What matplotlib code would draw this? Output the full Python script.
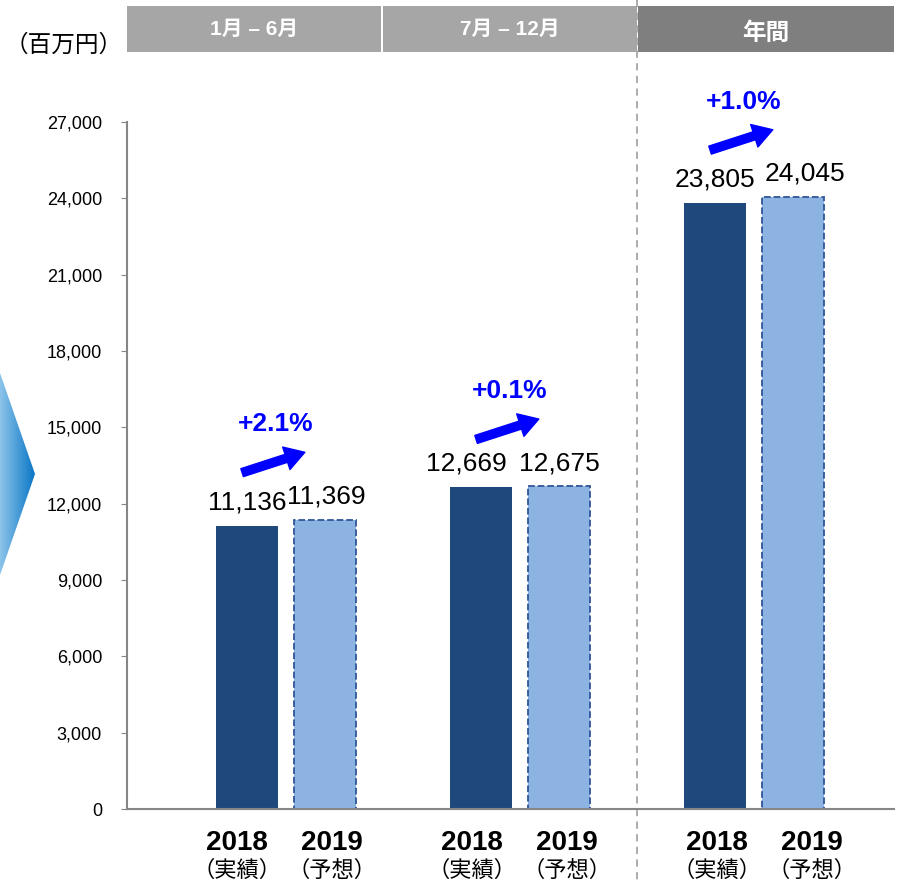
import numpy as np
import matplotlib
matplotlib.use('Agg')
import matplotlib.pyplot as plt
from matplotlib.patches import Polygon, Rectangle
from matplotlib.colors import LinearSegmentedColormap

plt.rcParams['font.family'] = ['Liberation Sans', 'Noto Sans CJK JP']

periods = ['1月 – 6月', '7月 – 12月', '年間']
years = ['2018', '2019']
year_notes = ['（実績）', '（予想）']
sales_2018 = [11136, 12669, 23805]
sales_2019 = [11369, 12675, 24045]
growth = ['+2.1%', '+0.1%', '+1.0%']
yticks = list(range(0, 27001, 3000))

W, H = 899, 884
fig = plt.figure(figsize=(W / 100, H / 100), dpi=100)

# pixel-coordinate overlay for header, divider and decoration
bg = fig.add_axes([0, 0, 1, 1], zorder=0)

# blue chevron on the left
grad = np.linspace(0, 1, 256).reshape(1, -1)
cmap = LinearSegmentedColormap.from_list('chev', ['#8CC4EA', '#0A76C6'])
im = bg.imshow(grad, extent=(0, 35, 575, 373), cmap=cmap, aspect='auto', origin='upper')
chev = Polygon([(0, 373), (35, 474), (0, 575)], closed=True, facecolor='none', edgecolor='none')
bg.add_patch(chev)
im.set_clip_path(chev)

# header boxes
bg.plot([637, 637], [0, H], color='#A6A6A6', ls=(0, (4, 3)), lw=1.3, zorder=1)
header_x = [(127, 381), (383, 637), (638, 894)]
header_col = ['#A6A6A6', '#A6A6A6', '#7F7F7F']
header_ty = [29, 29, 33]
header_fs = [15, 15, 17]
for (x0, x1), c, ty, fs, lab in zip(header_x, header_col, header_ty, header_fs, periods):
    bg.add_patch(Rectangle((x0, 6), x1 - x0, 46, facecolor=c, edgecolor='none', zorder=2))
    bg.text((x0 + x1) / 2, ty, lab, ha='center', va='center', color='white',
            fontsize=fs, fontweight='bold', zorder=3)

bg.text(64, 45, '（百万円）', ha='center', va='center', fontsize=17)

bg.set_xlim(0, W)
bg.set_ylim(H, 0)
bg.axis('off')

# main chart
ax = fig.add_axes([127 / W, 75 / H, (894 - 127) / W, (809 - 55) / H], zorder=1)
ax.patch.set_alpha(0)

x = np.arange(len(periods))
off = 0.166
w = 0.265
ax.bar(x - off, sales_2018, w, color='#1F497D', zorder=2)
ax.bar(x + off, sales_2019, w, color='#8DB3E2', edgecolor='#2F5597',
       linestyle='--', linewidth=1.3, zorder=2)

# small horizontal nudges (points) of the value labels, as in the original slide
nudge_2018 = [0, -11, 0]
nudge_2019 = [1, 0, 9]
label_off = 0.203
label_shift = [-0.008, -0.004, 0.046]
for i in range(len(periods)):
    a, b = sales_2018[i], sales_2019[i]
    ax.annotate(f'{a:,}', (x[i] - off, a + 450), xytext=(nudge_2018[i], 0),
                textcoords='offset points', ha='center', va='bottom', fontsize=19)
    ax.annotate(f'{b:,}', (x[i] + off, b + 450), xytext=(nudge_2019[i], 0),
                textcoords='offset points', ha='center', va='bottom', fontsize=19)
    top = max(a, b)
    ax.annotate('', xy=(x[i] + 0.08, top + 2650), xytext=(x[i] - 0.188, top + 1850),
                arrowprops=dict(arrowstyle='simple,head_length=1.4,head_width=1.7,tail_width=0.6',
                                mutation_scale=10, color='#0000FF', shrinkA=0, shrinkB=0))
    ax.text(x[i] - 0.045, top + 3750, growth[i], ha='center', va='center',
            fontsize=19, fontweight='bold', color='#0000FF')

    for j, dx in enumerate([-label_off, label_off]):
        lx = x[i] + dx + label_shift[i]
        ax.text(lx, -0.045, years[j], transform=ax.get_xaxis_transform(),
                ha='center', va='center', fontsize=20, fontweight='bold')
        ax.text(lx, -0.082, year_notes[j], transform=ax.get_xaxis_transform(),
                ha='center', va='center', fontsize=16)

ax.set_xlim(-0.68, 2.598)
ax.set_ylim(0, 27000 * (809 - 55) / 687)
ax.set_yticks(yticks)
ax.set_yticklabels([f'{v:,}' for v in yticks])
ax.set_xticks([])
ax.spines['top'].set_visible(False)
ax.spines['right'].set_visible(False)
ax.spines['left'].set_bounds(0, 27000)
for s in ['left', 'bottom']:
    ax.spines[s].set_color('#868686')
    ax.spines[s].set_linewidth(1.5)
ax.tick_params(axis='y', direction='out', length=4, color='#868686', labelsize=13, pad=14)

fig.savefig('out.png', dpi=100)
